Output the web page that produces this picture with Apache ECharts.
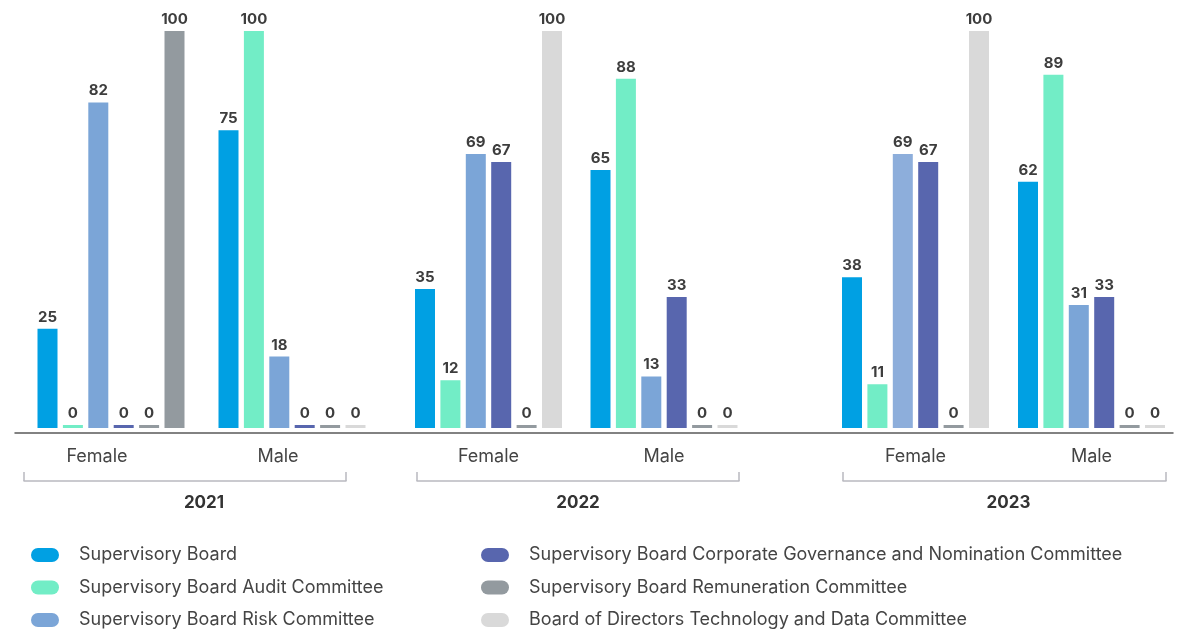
<!DOCTYPE html>
<html>
<head>
<meta charset="utf-8">
<title>Committee composition by gender</title>
<script src="https://cdn.jsdelivr.net/npm/echarts@6/dist/echarts.min.js"></script>
<style>
  html, body { margin: 0; padding: 0; background: #ffffff; }
  #chart { width: 1197px; height: 630px; }
</style>
</head>
<body>
<div id="chart"></div>
<script>
// Share of women and men per committee (%), per year
const years = ['2021', '2022', '2023'];
const genders = ['Female', 'Male'];
const committees = [
  'Supervisory Board',
  'Supervisory Board Audit Committee',
  'Supervisory Board Risk Committee',
  'Supervisory Board Corporate Governance and Nomination Committee',
  'Supervisory Board Remuneration Committee',
  'Board of Directors Technology and Data Committee'
];
// order of values: 2021 F, 2021 M, 2022 F, 2022 M, 2023 F, 2023 M
const supervisoryBoard      = [25, 75, 35, 65, 38, 62];
const auditCommittee        = [0, 100, 12, 88, 11, 89];
const riskCommittee         = [82, 18, 69, 13, 69, 31];
const governanceCommittee   = [0, 0, 67, 33, 67, 33];
const remunerationCommittee = [0, 0, 0, 0, 0, 0];
const techDataCommittee     = [100, 0, 100, 0, 100, 0];

const seriesValues = [supervisoryBoard, auditCommittee, riskCommittee,
  governanceCommittee, remunerationCommittee, techDataCommittee];
const colors = ['#00A0E3', '#72EDC6', '#7BA5D7', '#5866AE', '#939A9F', '#D9D9D9'];
// individual bars drawn in a different shade
const pointColors = { '5-0': '#939A9F', '2-4': '#8DAEDB' };

const FONT = 'Inter, "Noto Sans", sans-serif';

// bar plot areas, one per year
const barGrids = [
  { left: 20.5, width: 362 },
  { left: 400.75, width: 351 },
  { left: 827.5, width: 352 }
];
// bracket spans under each year
const bracketGrids = [
  { left: 24, width: 322, pad: [0, 0, 0, 38] },
  { left: 417, width: 322, pad: [0, 0, 0, 0] },
  { left: 843, width: 323, pad: [0, 0, 0, 8] }
];

const grid = [];
const xAxis = [];
const yAxis = [];
const series = [];

barGrids.forEach((g, y) => {
  grid.push({ left: g.left, width: g.width, top: 31, height: 397 });
  xAxis.push({
    type: 'category', gridIndex: y, data: genders,
    axisLine: { show: false }, axisTick: { show: false },
    axisLabel: {
      fontFamily: FONT, fontSize: 18, color: '#444',
      margin: 20, padding: y === 0 ? [0, 28, 0, 0] : 0
    }
  });
  yAxis.push({ type: 'value', gridIndex: y, min: 0, max: 100, show: false });
});

// continuous baseline across all years
grid.push({ left: 15, width: 1158, top: 0, height: 433 });
xAxis.push({
  type: 'value', gridIndex: 3, min: 0, max: 1,
  axisLine: { show: true, onZero: false, lineStyle: { color: '#5a5a5a', width: 1.5 } },
  axisTick: { show: false }, axisLabel: { show: false }, splitLine: { show: false }
});
yAxis.push({ type: 'value', gridIndex: 3, min: 0, max: 1, show: false });

// year brackets
bracketGrids.forEach((b, i) => {
  const gi = 4 + i;
  grid.push({ left: b.left, width: b.width, top: 470, height: 11 });
  xAxis.push({
    type: 'category', gridIndex: gi, data: [years[i]],
    axisLine: { show: true, lineStyle: { color: '#b9b9c0', width: 1.5 } },
    axisTick: { show: true, inside: true, length: 9, interval: 0,
      lineStyle: { color: '#b9b9c0', width: 1.5 } },
    axisLabel: {
      fontFamily: FONT, fontSize: 17, fontWeight: 'bold', color: '#333',
      margin: 13, padding: b.pad
    }
  });
  yAxis.push({ type: 'value', gridIndex: gi, min: 0, max: 1, show: false });
});

years.forEach((yr, y) => {
  committees.forEach((name, c) => {
    const data = [0, 1].map(k => {
      const idx = y * 2 + k;
      const item = { value: seriesValues[c][idx] };
      const pc = pointColors[c + '-' + idx];
      if (pc) item.itemStyle = { color: pc };
      return item;
    });
    series.push({
      type: 'bar', name: name,
      xAxisIndex: y, yAxisIndex: y,
      data: data,
      barWidth: 20, barGap: '27%', barMinHeight: 3,
      itemStyle: { color: colors[c] },
      label: {
        show: true, position: 'top', distance: 4,
        fontFamily: FONT, fontSize: 15, fontWeight: 'bold', color: '#3d3d3d'
      }
    });
  });
});

const pillIcon = 'path://M7,0 H21 A7,7 0 0 1 21,14 H7 A7,7 0 0 1 7,0 Z';
const legendBase = {
  orient: 'vertical', top: 546, height: 120, padding: 0,
  icon: pillIcon, itemWidth: 28, itemHeight: 14, itemGap: 14.5,
  selectedMode: false,
  textStyle: { fontFamily: FONT, fontSize: 18, color: '#444', padding: [0, 0, 0, 15] }
};

const chart = echarts.init(document.getElementById('chart'), null, { renderer: 'canvas' });
chart.setOption({
  animation: false,
  backgroundColor: '#ffffff',
  color: colors,
  grid: grid,
  xAxis: xAxis,
  yAxis: yAxis,
  legend: [
    Object.assign({}, legendBase, { left: 31, data: committees.slice(0, 3) }),
    Object.assign({}, legendBase, { left: 481, data: committees.slice(3) })
  ],
  series: series
});
</script>
</body>
</html>
